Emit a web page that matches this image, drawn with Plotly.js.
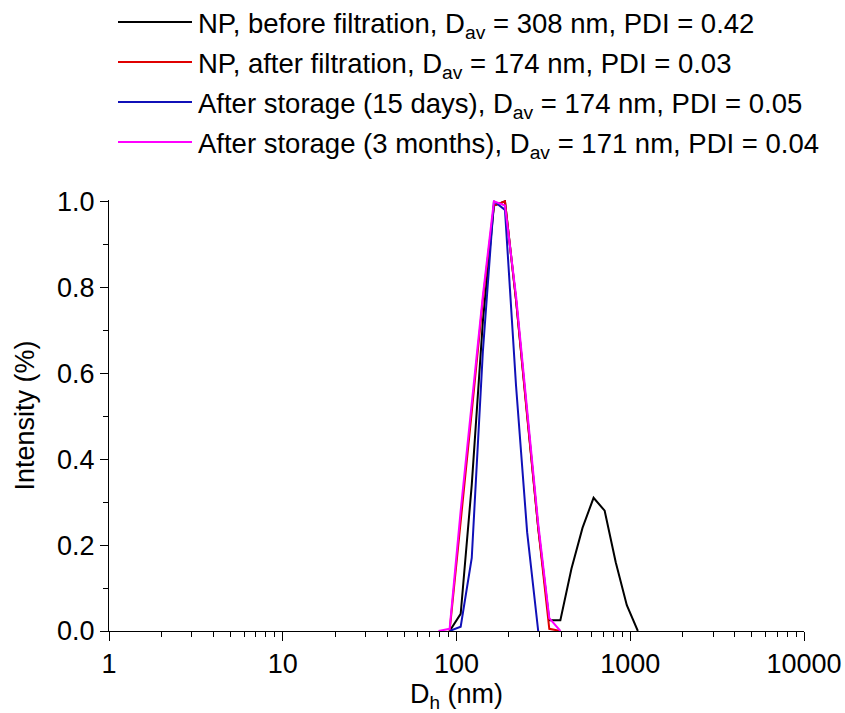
<!DOCTYPE html>
<html>
<head>
<meta charset="utf-8">
<script src="https://cdn.plot.ly/plotly-3.0.1.min.js"></script>
<style>html,body{margin:0;padding:0;background:#fff;}#chart{width:845px;height:713px;}</style>
</head>
<body>
<div id="chart"></div>
<script>
// Hydrodynamic diameter bins (nm)
const sizeBins = [78.82, 91.28, 105.7, 122.4, 141.8, 164.2, 190.1, 220.2, 255.0, 295.3, 342.0, 396.1, 458.7, 531.2, 615.1, 712.4, 825.0, 955.4, 1106];

// Normalised intensity per series (null = not drawn)
const beforeFiltration = [null, 0, 0.04, 0.34, 0.72, 0.99, 1.0, 0.77, 0.50, 0.24, 0.025, 0.025, 0.145, 0.24, 0.31, 0.28, 0.16, 0.06, 0];
const afterFiltration  = [null, 0, 0.25, 0.51, 0.77, 0.99, 1.0, 0.77, 0.50, 0.24, 0.005, 0, null, null, null, null, null, null, null];
const storage15days    = [null, 0, 0.01, 0.17, 0.65, 1.0, 0.98, 0.57, 0.23, 0, null, null, null, null, null, null, null, null, null];
const storage3months   = [0, 0.005, 0.28, 0.53, 0.78, 1.0, 0.99, 0.78, 0.51, 0.25, 0.03, 0, null, null, null, null, null, null, null];

const seriesNames = [
  "NP, before filtration, D<sub>av</sub> = 308 nm, PDI = 0.42",
  "NP, after filtration, D<sub>av</sub> = 174 nm, PDI = 0.03",
  "After storage (15 days), D<sub>av</sub> = 174 nm, PDI = 0.05",
  "After storage (3 months), D<sub>av</sub> = 171 nm, PDI = 0.04"
];
const seriesValues = [beforeFiltration, afterFiltration, storage15days, storage3months];
const seriesColors = ["#000000", "#e00000", "#1010b8", "#ff00ff"];

const xTickVals = [1, 10, 100, 1000, 10000];
const xTickText = ["1", "10", "100", "1000", "10000"];
const yTickVals = [0, 0.2, 0.4, 0.6, 0.8, 1.0];

const minorX = [];
for (let e = 0; e < 4; e++) for (let m = 2; m <= 9; m++) minorX.push(m * Math.pow(10, e));

const W = 845, H = 713;
const M = {l: 109, r: 41, t: 200, b: 82};
const plotW = W - M.l - M.r, plotH = H - M.t - M.b;
const yTop = 1.003;
const pxX = px => (px - M.l) / plotW;
const pxY = py => (H - M.b - py) / plotH;

const traces = seriesValues.map((vals, i) => ({
  x: sizeBins, y: vals, name: seriesNames[i], type: "scatter", mode: "lines",
  line: {color: seriesColors[i], width: 2}, connectgaps: false, showlegend: false
}));

const FF = "Liberation Sans, Arial, sans-serif";
const FS = 27;

// Legend drawn as shapes + annotations above the plot area
const legendShapes = [], legendAnns = [];
seriesNames.forEach((nm, i) => {
  const rowY = 22 + i * 40;
  legendShapes.push({type: "line", xref: "paper", yref: "paper",
    x0: pxX(118), x1: pxX(192), y0: pxY(rowY), y1: pxY(rowY),
    line: {color: seriesColors[i], width: 2}});
  legendAnns.push({xref: "paper", yref: "paper", x: pxX(196), y: pxY(rowY),
    xanchor: "left", yanchor: "middle", yshift: -3, showarrow: false, text: nm,
    font: {family: FF, size: 27.5, color: "#000"}});
});

const layout = {
  width: W, height: H,
  margin: M,
  paper_bgcolor: "#fff", plot_bgcolor: "#fff",
  font: {family: FF, size: FS, color: "#000"},
  showlegend: false,
  shapes: legendShapes,
  annotations: legendAnns,
  xaxis: {
    type: "log", range: [0, 4], automargin: false,
    tickmode: "array", tickvals: xTickVals, ticktext: xTickText,
    ticks: "outside", ticklen: 9, tickwidth: 1, tickcolor: "#000",
    minor: {tickmode: "array", tickvals: minorX, ticks: "outside", ticklen: 5, tickcolor: "#000", tickwidth: 1},
    showline: true, linecolor: "#000", linewidth: 1,
    showgrid: false, zeroline: false,
    tickfont: {family: FF, size: FS, color: "#000"},
    title: {text: "D<sub>h</sub> (nm)", font: {family: FF, size: FS, color: "#000"}, standoff: 4}
  },
  yaxis: {
    range: [0, yTop], automargin: false,
    tickmode: "array", tickvals: yTickVals, tickformat: ".1f",
    ticks: "outside", ticklen: 8, tickwidth: 1, tickcolor: "#000",
    minor: {dtick: 0.1, ticks: "outside", ticklen: 5, tickcolor: "#000", tickwidth: 1},
    showline: true, linecolor: "#000", linewidth: 1,
    showgrid: false, zeroline: false,
    tickfont: {family: FF, size: FS, color: "#000"},
    title: {text: "Intensity (%)", font: {family: FF, size: FS, color: "#000"}, standoff: 14}
  }
};

Plotly.newPlot("chart", traces, layout, {displayModeBar: false, staticPlot: true});
</script>
</body>
</html>
